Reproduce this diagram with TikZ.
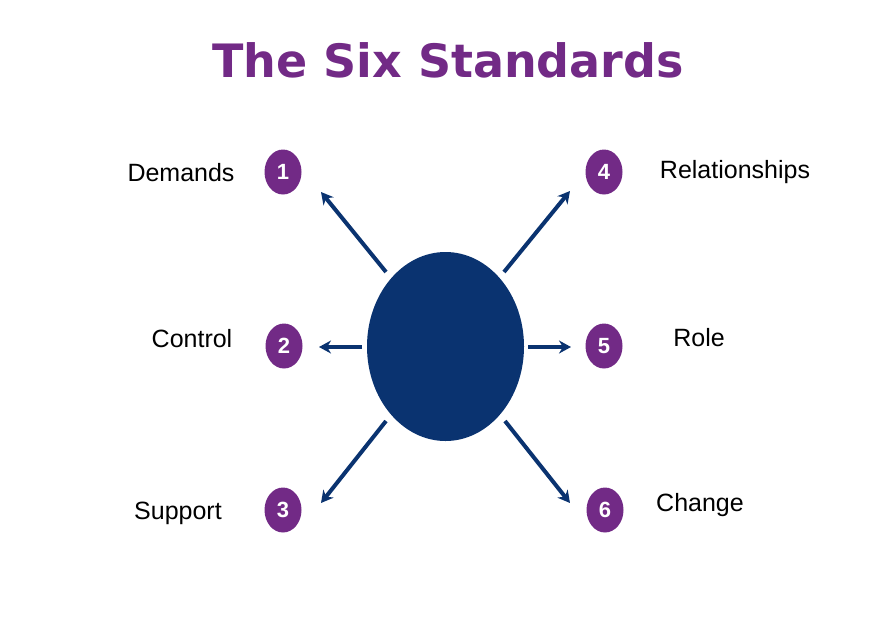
\documentclass[tikz,border=0pt]{standalone}
\usepackage{fontspec}
\setmainfont{Liberation Sans}
\newfontfamily\titlefont{DejaVu Sans}
\usetikzlibrary{arrows.meta,shapes.geometric}
\definecolor{purp}{HTML}{722A86}
\definecolor{navy}{HTML}{0A3370}
\begin{document}
\begin{tikzpicture}[x=1pt,y=-1pt,
  num/.style={ellipse,fill=purp,minimum width=37pt,minimum height=45pt,inner sep=0pt,text=white,font=\fontsize{22}{24}\selectfont\bfseries},
  lbl/.style={font=\fontsize{25}{28}\selectfont,text=black,inner sep=0pt},
  arr/.style={draw=navy,line width=4pt,-{Stealth[length=12pt,width=13pt]}}]
\useasboundingbox (0,0) rectangle (891,630);
\node[font=\titlefont\fontsize{46}{50}\selectfont\bfseries,text=purp] (title) at (448,60) {The Six Standards};
\node[ellipse,fill=navy,minimum width=157pt,minimum height=189pt,inner sep=0pt] (c) at (445.5,346.5) {};
\node[num] (n1) at (283,172) {1};
\node[num] (n2) at (284,346) {2};
\node[num] (n3) at (283,510) {3};
\node[num] (n4) at (604,172) {4};
\node[num] (n5) at (604,346) {5};
\node[num] (n6) at (605,510) {6};
\node[lbl] (l1) at (181,173) {Demands};
\node[lbl] (l2) at (192,339) {Control};
\node[lbl] (l3) at (178,513) {Support};
\node[lbl] (l4) at (735,172) {Relationships};
\node[lbl] (l5) at (699,338) {Role};
\node[lbl] (l6) at (700,505) {Change};
\coordinate (s1) at (386,272); \coordinate (e1) at (321,192);
\coordinate (s2) at (362,347); \coordinate (e2) at (319,347);
\coordinate (s3) at (386,421); \coordinate (e3) at (321,503);
\coordinate (s4) at (504,272); \coordinate (e4) at (570,191);
\coordinate (s5) at (528,347); \coordinate (e5) at (571,347);
\coordinate (s6) at (505,421); \coordinate (e6) at (570,503);
\foreach \i in {1,...,6} {\draw[arr] (s\i) -- (e\i);}
\end{tikzpicture}
\end{document}
